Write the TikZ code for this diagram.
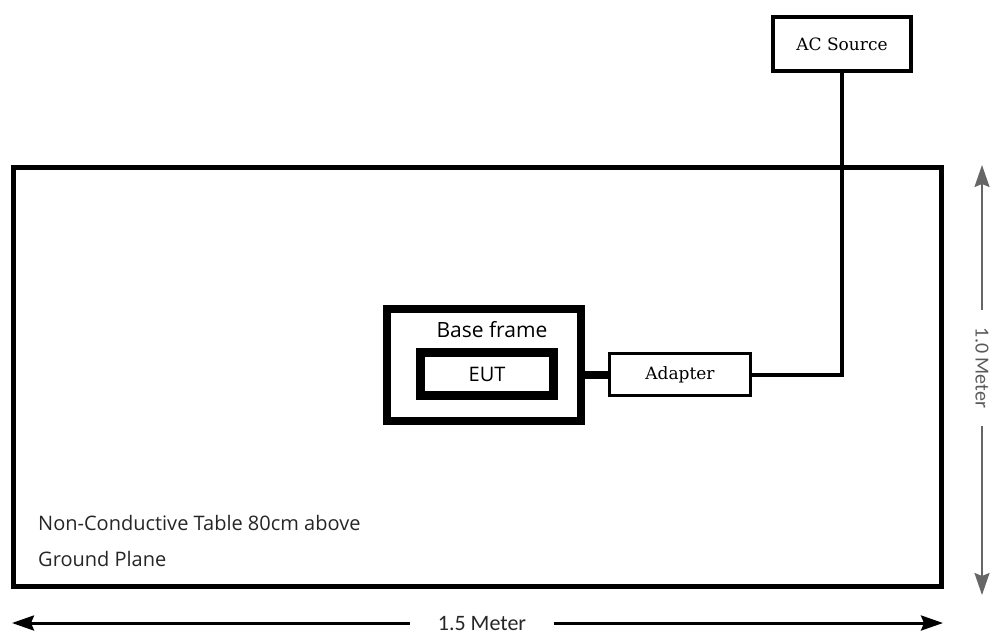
\documentclass[tikz,border=0pt]{standalone}
\usepackage{fontspec}
\setmainfont{Open Sans}
\newfontfamily\boxserif{DejaVu Serif}
\newfontfamily\dimsans{Carlito}
\usetikzlibrary{arrows.meta}

\begin{document}
\begin{tikzpicture}[x=1pt, y=-1pt, >={Stealth[length=22pt,width=15pt,inset=3pt]},
  box/.style={draw, rectangle, inner sep=0pt},
  serifbox/.style={box, font=\boxserif\fontsize{17}{20}\selectfont},
  dimlabel/.style={font=\dimsans\fontsize{22}{26}\selectfont, inner ysep=0pt}]
  \useasboundingbox (0,0) rectangle (993,635);
  \node[box, line width=5pt, minimum width=928pt, minimum height=419pt] (table) at (477,376.5) {};
  \node[serifbox, line width=4.5pt, minimum width=138pt, minimum height=54pt] (acsrc) at (842,44) {AC Source};
  \node[box, line width=8pt, minimum width=194pt, minimum height=112pt] (baseframe) at (484,365) {};
  \node[font=\fontsize{21}{24}\selectfont] (baselabel) at (492,330) {Base frame};
  \node[box, line width=9pt, minimum width=133pt, minimum height=43pt, font=\fontsize{20}{24}\selectfont] (eut) at (487,374) {EUT};
  \node[serifbox, line width=3pt, minimum width=141pt, minimum height=42pt] (adapter) at (680,374.5) {Adapter};
  \draw[line width=8pt] (baseframe.east |- adapter.west) -- (adapter.west);
  \draw[line width=4pt] (acsrc.south) |- (adapter.east);
  \node[anchor=west, align=left, inner sep=0pt, font=\fontsize{20}{36}\selectfont, text=black!85] (tabletext) at (38,541) {Non-Conductive Table 80cm above\\Ground Plane};
  \coordinate (wleft) at (12,623);
  \coordinate (wright) at (943,623);
  \node[dimlabel, inner xsep=28pt, text=black!85] (wlabel) at (482,623) {1.5 Meter};
  \draw[->, line width=3pt] (wlabel.west) -- (wleft);
  \draw[->, line width=3pt] (wlabel.east) -- (wright);
  \coordinate (htop) at (982,165);
  \coordinate (hbottom) at (982,595);
  \node[dimlabel, rotate=-90, inner xsep=18pt, font=\dimsans\fontsize{20}{24}\selectfont, text=black!65] (hlabel) at (982,368) {1.0 Meter};
  \draw[->, black!60, line width=2pt] (hlabel.west) -- (htop);
  \draw[->, black!60, line width=2pt] (hlabel.east) -- (hbottom);
\end{tikzpicture}
\end{document}
